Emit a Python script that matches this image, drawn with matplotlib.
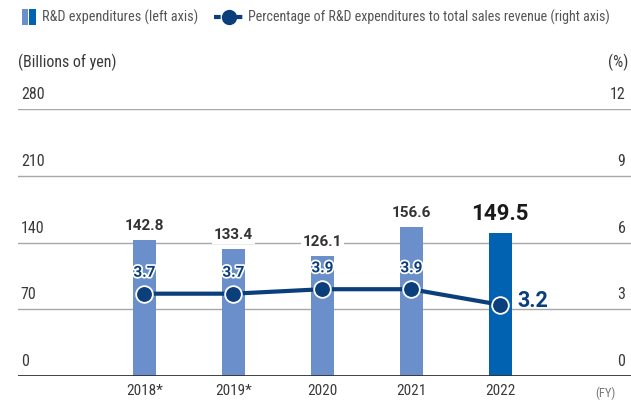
import matplotlib.pyplot as plt
from matplotlib.lines import Line2D
from matplotlib.patches import Rectangle
import matplotlib.patheffects as pe

plt.rcParams['font.family'] = ['Roboto Condensed', 'Roboto', 'DejaVu Sans']

years = ['2018*', '2019*', '2020', '2021', '2022']
rd_exp = [142.8, 133.4, 126.1, 156.6, 149.5]
rd_pct = [3.7, 3.7, 3.9, 3.9, 3.2]
left_ticks = [0, 70, 140, 210, 280]
right_ticks = [0, 3, 6, 9, 12]

bar_color = '#6a8fcb'
bar_last = '#0062b0'
line_color = '#0b3f7c'
grid_color = '#a8a8a8'
text_gray = '#3a3a3a'

W, H = 631, 401
fig = plt.figure(figsize=(W / 100, H / 100), dpi=100)
ax = fig.add_axes([18 / W, 1 - 376 / H, 1 - 18 / W, (376 - 109) / H])
ax2 = ax.twinx()

x = list(range(len(years)))
colors = [bar_color] * (len(years) - 1) + [bar_last]

ax.set_xlim(-1.42, 5.47)
ax.set_ylim(0, 280)
ax2.set_ylim(0, 12)

for v in left_ticks[1:]:
    ax.axhline(v, color=grid_color, lw=1.0, zorder=0)
ax.axhline(0, color='#333333', lw=1.3, zorder=3)

ax.bar(x, rd_exp, width=0.26, color=colors, zorder=2)

for i, v in enumerate(rd_exp):
    last = i == len(rd_exp) - 1
    ax.annotate(f'{v}', xy=(i, v), xytext=(0, 6 if last else 5), textcoords='offset points',
                ha='center', va='bottom', fontsize=16 if last else 11,
                fontweight='bold', color='#1a1a1a' if last else '#333333',
                family=['Roboto', 'DejaVu Sans'],
                bbox=dict(boxstyle='square,pad=0.12', fc='white', ec='none'), zorder=5)

ax2.plot(x, rd_pct, color=line_color, lw=3, marker='o', markersize=12,
         markerfacecolor=line_color, markeredgecolor='white', markeredgewidth=1.3, zorder=4)

for i, v in enumerate(rd_pct):
    if i == len(rd_pct) - 1:
        ax2.annotate(f'{v}', xy=(i, v), xytext=(12, 3), textcoords='offset points',
                     ha='left', va='center', fontsize=15.5, fontweight='bold',
                     color=line_color, family=['Roboto', 'DejaVu Sans'])
    else:
        ax2.annotate(f'{v}', xy=(i, v), xytext=(0, 10), textcoords='offset points',
                     ha='center', va='bottom', fontsize=11, fontweight='bold',
                     color=line_color, family=['Roboto', 'DejaVu Sans'],
                     path_effects=[pe.withStroke(linewidth=2.5, foreground='white')])

for a in (ax, ax2):
    for s in a.spines.values():
        s.set_visible(False)
    a.set_yticks([])

ax.set_xticks(x)
ax.set_xticklabels(years)
ax.tick_params(axis='x', length=0, pad=6, labelsize=11, labelcolor=text_gray)

for v in left_ticks:
    ax.annotate(str(v), xy=(0, v), xycoords=('axes fraction', 'data'),
                xytext=(2, 5), textcoords='offset points', ha='left', va='bottom',
                fontsize=11.5, color=text_gray)
for v in right_ticks:
    ax2.annotate(str(v), xy=(1, v), xycoords=('axes fraction', 'data'),
                 xytext=(-4, 5), textcoords='offset points', ha='right', va='bottom',
                 fontsize=11.5, color=text_gray)

fig.text(18 / W, 1 - 62 / H, '(Billions of yen)', ha='left', va='center',
         fontsize=11.5, color=text_gray)
fig.text(628 / W, 1 - 62 / H, '(%)', ha='right', va='center',
         fontsize=11.5, color=text_gray)
fig.text(605 / W, 1 - 393 / H, '(FY)', ha='center', va='center',
         fontsize=9, color='#777777')

# legend drawn by hand in figure pixels
fig.patches.append(Rectangle((22 / W, 1 - 25 / H), 6 / W, 16 / H, transform=fig.transFigure,
                             facecolor=bar_color, edgecolor='none'))
fig.patches.append(Rectangle((29 / W, 1 - 25 / H), 7 / W, 16 / H, transform=fig.transFigure,
                             facecolor=bar_last, edgecolor='none'))
fig.text(42 / W, 1 - 17 / H, 'R&D expenditures (left axis)', ha='left', va='center',
         fontsize=10.3, color='#555555')
fig.add_artist(Line2D([214 / W, 244 / W], [1 - 17 / H, 1 - 17 / H], transform=fig.transFigure,
                      color=line_color, lw=3, linestyle=(0, (1.6, 1.0))))
fig.add_artist(Line2D([229 / W], [1 - 17 / H], transform=fig.transFigure, marker='o',
                      markersize=10, color=line_color, markeredgecolor=line_color))
fig.text(248 / W, 1 - 17 / H,
         'Percentage of R&D expenditures to total sales revenue (right axis)',
         ha='left', va='center', fontsize=10.1, color='#555555')

fig.savefig('out.png', dpi=100)
